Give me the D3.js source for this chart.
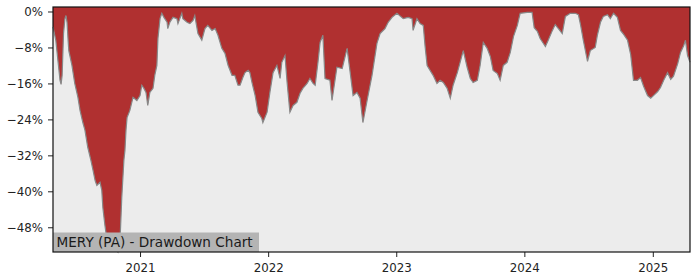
<!DOCTYPE html>
<html>
<head>
<meta charset="utf-8">
<script src="https://cdn.jsdelivr.net/npm/d3@7"></script>
<style>
  body { margin: 0; background: #fff; }
  svg { display: block; font-family: "DejaVu Sans", sans-serif; }
</style>
</head>
<body>
<script>
let margin = {top: 7, right: 10, bottom: 28, left: 53}
let width = 700
let height = 280

let title = "MERY (PA) - Drawdown Chart"

let dates = [
    "2020-04-28","2020-05-06","2020-05-12","2020-05-18","2020-05-21","2020-05-24","2020-05-28","2020-06-01",
    "2020-06-04","2020-06-07","2020-06-10","2020-06-12","2020-06-21","2020-06-29","2020-07-08","2020-07-14",
    "2020-07-22","2020-07-28","2020-08-05","2020-08-14","2020-08-20","2020-08-26","2020-08-31","2020-09-09",
    "2020-09-14","2020-09-17","2020-09-23","2020-09-26","2020-10-01","2020-10-13","2020-10-24","2020-10-30",
    "2020-11-05","2020-11-10","2020-11-16","2020-11-19","2020-11-22","2020-11-25","2020-12-03","2020-12-12",
    "2020-12-23","2021-01-01","2021-01-06","2021-01-12","2021-01-18","2021-01-23","2021-01-29","2021-02-07",
    "2021-02-12","2021-02-18","2021-02-21","2021-02-27","2021-03-04","2021-03-10","2021-03-19","2021-03-21",
    "2021-03-27","2021-04-05","2021-04-16","2021-04-19","2021-04-30","2021-05-03","2021-05-15","2021-05-23",
    "2021-06-01","2021-06-06","2021-06-15","2021-06-26","2021-07-05","2021-07-13","2021-07-25","2021-08-03",
    "2021-08-11","2021-08-22","2021-08-31","2021-09-09","2021-09-20","2021-09-28","2021-10-07","2021-10-13",
    "2021-10-21","2021-10-27","2021-11-05","2021-11-10","2021-11-16","2021-11-25","2021-12-03","2021-12-14",
    "2021-12-17","2021-12-29","2022-01-06","2022-01-15","2022-01-26","2022-02-04","2022-02-09","2022-02-18",
    "2022-02-24","2022-03-04","2022-03-13","2022-03-24","2022-04-02","2022-04-10","2022-04-22","2022-04-30",
    "2022-05-09","2022-05-15","2022-05-23","2022-05-29","2022-06-06","2022-06-12","2022-06-26","2022-07-02",
    "2022-07-16","2022-07-31","2022-08-14","2022-08-22","2022-08-31","2022-09-11","2022-09-20","2022-09-28",
    "2022-10-10","2022-10-24","2022-11-07","2022-11-16","2022-11-30","2022-12-09","2022-12-20","2023-01-03",
    "2023-01-21","2023-02-04","2023-02-15","2023-02-18","2023-03-01","2023-03-10","2023-03-19","2023-03-24",
    "2023-03-30","2023-04-16","2023-04-27","2023-05-06","2023-05-15","2023-05-26","2023-06-04","2023-06-12",
    "2023-06-24","2023-07-02","2023-07-11","2023-07-22","2023-07-31","2023-08-08","2023-08-20","2023-08-28",
    "2023-09-06","2023-09-17","2023-09-26","2023-10-04","2023-10-16","2023-10-24","2023-11-02","2023-11-13",
    "2023-11-22","2023-12-01","2023-12-12","2023-12-20","2024-01-09","2024-01-23","2024-01-29","2024-02-07",
    "2024-02-15","2024-03-01","2024-03-09","2024-03-21","2024-03-29","2024-04-07","2024-04-18","2024-04-27",
    "2024-05-11","2024-05-25","2024-06-03","2024-06-09","2024-06-17","2024-06-29","2024-07-07","2024-07-21",
    "2024-07-27","2024-08-05","2024-08-13","2024-08-25","2024-09-02","2024-09-11","2024-09-22","2024-10-01",
    "2024-10-10","2024-10-21","2024-10-30","2024-11-07","2024-11-18","2024-11-27","2024-12-06","2024-12-17",
    "2024-12-26","2025-01-03","2025-01-15","2025-01-23","2025-02-01","2025-02-12","2025-02-21","2025-03-01",
    "2025-03-13","2025-03-21","2025-03-30","2025-04-04","2025-04-10","2025-04-17"
]

// drawdown in percent
let drawdown = [
    -3.4,-6.4,-10.9,-15.3,-16.2,-14.2,-4.9,-1.6,
    -0.9,-2.4,-6.4,-8.7,-12.0,-16.0,-19.1,-22.0,
    -24.7,-26.4,-30.2,-33.1,-35.3,-37.6,-38.7,-38.0,
    -39.8,-43.6,-47.6,-49.3,-52.0,-53.1,-52.9,-53.5,
    -50.9,-41.3,-33.1,-30.9,-26.4,-23.6,-22.0,-19.1,
    -19.8,-18.7,-16.4,-17.1,-18.0,-20.9,-18.0,-17.1,
    -14.2,-12.0,-6.0,-1.6,-0.4,-1.3,-2.4,-3.8,
    -2.4,-1.3,-1.6,-2.7,-0.4,-1.6,-2.4,-2.7,
    -2.0,-0.9,-4.9,-6.4,-3.8,-3.1,-4.2,-3.8,
    -5.3,-8.2,-9.3,-12.0,-14.2,-14.2,-16.4,-16.4,
    -14.7,-13.6,-13.1,-13.6,-15.8,-18.7,-22.4,-23.8,
    -24.7,-22.4,-18.0,-13.6,-12.0,-14.9,-11.3,-9.8,
    -15.8,-22.4,-20.9,-20.2,-18.2,-17.1,-16.0,-14.9,
    -16.0,-16.4,-11.3,-6.9,-5.3,-14.9,-15.3,-19.8,
    -12.4,-12.7,-8.2,-13.1,-18.7,-18.0,-19.3,-24.7,
    -19.8,-14.2,-7.1,-4.9,-3.8,-2.4,-1.3,-0.4,
    -1.6,-1.3,-1.6,-4.2,-1.6,-2.7,-3.1,-7.6,
    -12.0,-14.2,-16.0,-15.3,-15.8,-17.1,-19.3,-16.4,
    -13.6,-11.3,-8.7,-12.4,-14.9,-15.8,-15.3,-12.0,
    -6.9,-8.2,-10.0,-13.1,-13.8,-15.3,-12.0,-11.3,
    -9.1,-5.6,-3.1,-0.4,-0.2,-0.2,-3.6,-4.4,
    -6.0,-7.8,-6.4,-4.2,-2.9,-3.8,-4.9,-1.1,
    -0.4,-0.4,-0.7,-2.9,-6.4,-11.1,-8.7,-8.0,
    -5.3,-2.4,-1.1,-0.7,-1.6,-0.4,-1.3,-4.2,
    -5.1,-6.4,-9.6,-15.3,-15.3,-14.7,-16.7,-18.7,
    -19.3,-18.7,-17.8,-16.9,-15.3,-13.6,-15.1,-14.4,
    -11.6,-9.1,-7.6,-6.4,-9.8,-11.3
]

let yTicks = [0, -8, -16, -24, -32, -40, -48]
let yDomain = [-53.5, 1.0]

let parse = d3.timeParse("%Y-%m-%d")
let ds = dates.map((d, i) => ({date: parse(d), value: drawdown[i]}))

let svg = d3.select("body").append("svg")
    .attr("width", width)
    .attr("height", height)

let x = d3.scaleTime()
    .domain(d3.extent(ds, d => d.date))
    .range([margin.left, width - margin.right])

let y = d3.scaleLinear()
    .domain(yDomain)
    .range([height - margin.bottom, margin.top])

// plot background
svg.append("rect")
    .attr("x", margin.left)
    .attr("y", margin.top)
    .attr("width", width - margin.right - margin.left)
    .attr("height", height - margin.bottom - margin.top)
    .attr("fill", "#ececec")

// red area from the top of the plot down to the drawdown
let area = d3.area()
    .x(d => x(d.date))
    .y0(margin.top)
    .y1(d => y(d.value))

svg.append("path")
    .datum(ds)
    .attr("d", area)
    .attr("fill", "#b03030")

let line = d3.line()
    .x(d => x(d.date))
    .y(d => y(d.value))

svg.append("path")
    .datum(ds)
    .attr("d", line)
    .attr("fill", "none")
    .attr("stroke", "#888")
    .attr("stroke-width", 1.2)

// title box bottom left
let tb = svg.append("g")
tb.append("rect")
    .attr("x", margin.left)
    .attr("y", height - margin.bottom - 19.5)
    .attr("width", 206)
    .attr("height", 19.5)
    .attr("fill", "#b4b4b4")
tb.append("text")
    .attr("x", margin.left + 3.5)
    .attr("y", height - margin.bottom - 5)
    .attr("font-size", "13.6px")
    .attr("fill", "#1a1a1a")
    .text(title)

// axes
let xAxis = svg.append("g")
    .attr("transform", "translate(0," + (height - margin.bottom) + ")")
    .call(d3.axisBottom(x).ticks(d3.timeYear.every(1)).tickFormat(d3.timeFormat("%Y")).tickSize(5).tickSizeOuter(0))

let yAxis = svg.append("g")
    .attr("transform", "translate(" + margin.left + ",0)")
    .call(d3.axisLeft(y).tickValues(yTicks).tickFormat(d => (d < 0 ? "\u2212" + (-d) : d) + "%").tickSize(5).tickSizeOuter(0))

svg.selectAll(".tick text")
    .attr("font-family", "DejaVu Sans")
    .attr("font-size", "11.8px")
    .attr("fill", "#222")
xAxis.selectAll(".tick text").attr("dy", "1.0em")
yAxis.selectAll(".tick text").attr("x", -10)
svg.selectAll(".domain").remove()
svg.selectAll(".tick line").attr("stroke", "#222")

// frame
svg.append("rect")
    .attr("x", margin.left)
    .attr("y", margin.top)
    .attr("width", width - margin.right - margin.left)
    .attr("height", height - margin.bottom - margin.top)
    .attr("fill", "none")
    .attr("stroke", "#111")
    .attr("stroke-width", 1.2)
</script>
</body>
</html>
